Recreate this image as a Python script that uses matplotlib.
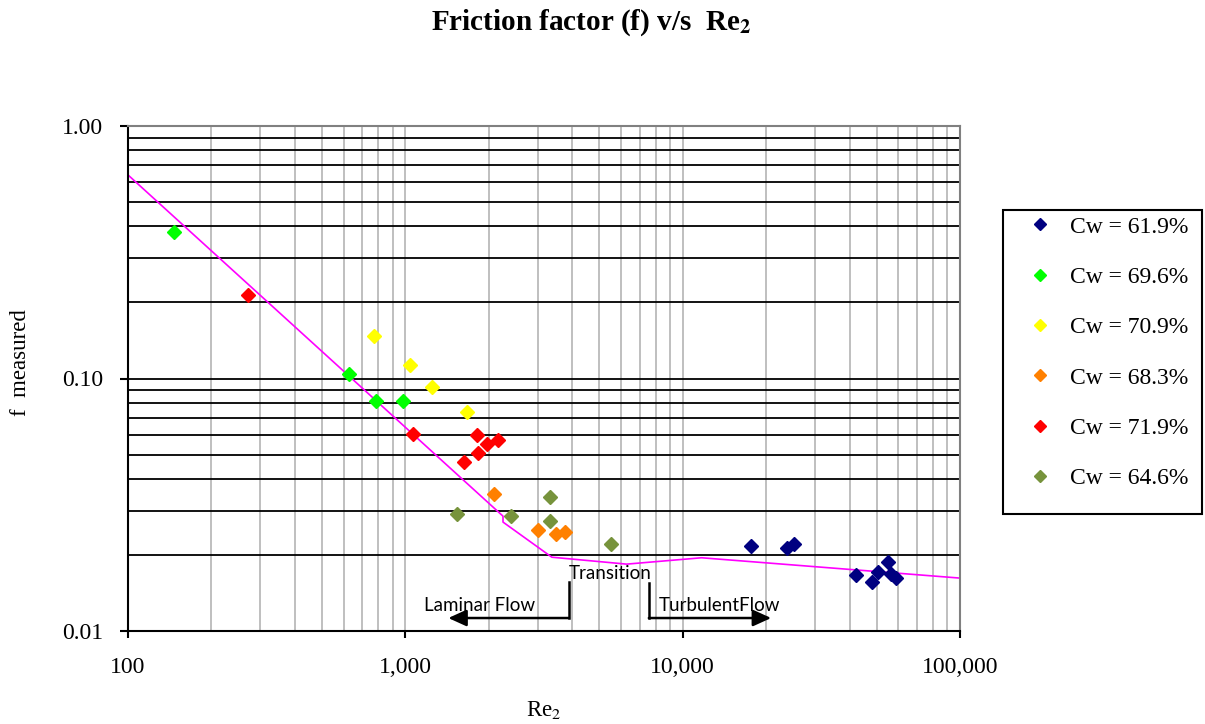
import matplotlib
matplotlib.use("Agg")
from matplotlib import pyplot as plt
from matplotlib.patches import Rectangle
from matplotlib.ticker import FixedLocator, FuncFormatter, NullFormatter

plt.rcParams['font.family'] = ['Liberation Serif', 'DejaVu Serif']
plt.rcParams['mathtext.fontset'] = 'stix'

# series: Re2 and f measured
labels = ['Cw = 61.9%', 'Cw = 69.6%', 'Cw = 70.9%', 'Cw = 68.3%', 'Cw = 71.9%', 'Cw = 64.6%']
colors = ['#000080', '#00ff00', '#ffff00', '#ff8000', '#ff0000', '#77933c']

re_619 = [17700, 23700, 25100, 42000, 48000, 50800, 54800, 56500, 59000]
f_619 = [0.0217, 0.0213, 0.0221, 0.0167, 0.0156, 0.0171, 0.0188, 0.0168, 0.0162]

re_696 = [146, 625, 783, 980]
f_696 = [0.380, 0.104, 0.0814, 0.0814]

re_709 = [769, 1038, 1245, 1667]
f_709 = [0.147, 0.113, 0.0925, 0.0737]

re_683 = [2084, 2999, 3486, 3757]
f_683 = [0.0349, 0.0251, 0.0242, 0.0247]

re_719 = [270, 1064, 1625, 1811, 1824, 1967, 2154]
f_719 = [0.214, 0.0603, 0.0467, 0.0598, 0.0507, 0.0550, 0.0571]

re_646 = [1534, 2398, 3318, 3318, 5506]
f_646 = [0.0291, 0.0285, 0.0339, 0.0273, 0.0221]

# reference curve
re_ref = [100, 2250, 2250, 3375, 6280, 11700, 100000]
f_ref = [0.64, 0.0285, 0.0270, 0.0196, 0.0184, 0.0195, 0.0162]

re_series = [re_619, re_696, re_709, re_683, re_719, re_646]
f_series = [f_619, f_696, f_709, f_683, f_719, f_646]

fig = plt.figure(figsize=(12.05, 7.24), dpi=100)
ax = fig.add_axes([128/1205, 93/724, 832/1205, 505/724])
ax.set_xscale('log')
ax.set_yscale('log')
ax.set_xlim(100, 100000)
ax.set_ylim(0.01, 1.0)

# grid: grey verticals, black horizontals
xminor = [m * 10**d for d in (2, 3, 4) for m in range(2, 10)]
yminor = [m * 10.0**d for d in (-2, -1) for m in range(2, 10)]
for x in xminor + [1000, 10000]:
    ax.axvline(x, color='#bfbfbf', lw=1.4, zorder=0)
for y in yminor + [0.1]:
    ax.axhline(y, color='black', lw=1.3, zorder=0)

ax.plot(re_ref, f_ref, color='#ff00ff', lw=1.2, zorder=2)
for xs, ys, c, lab in zip(re_series, f_series, colors, labels):
    ax.plot(xs, ys, linestyle='none', marker='D', ms=7.3, color=c, mec=c, label=lab, zorder=3)

ax.xaxis.set_major_locator(FixedLocator([100, 1000, 10000, 100000]))
ax.xaxis.set_minor_locator(FixedLocator([]))
ax.yaxis.set_major_locator(FixedLocator([0.01, 0.1, 1.0]))
ax.yaxis.set_minor_locator(FixedLocator([]))
ax.xaxis.set_major_formatter(FuncFormatter(lambda v, p: '{:,.0f}'.format(v)))
ax.yaxis.set_major_formatter(FuncFormatter(lambda v, p: '{:.2f}'.format(v)))
ax.xaxis.set_minor_formatter(NullFormatter())
ax.yaxis.set_minor_formatter(NullFormatter())
ax.tick_params(axis='x', which='major', direction='out', length=5, width=1.5, labelsize=17, pad=13.5)
ax.tick_params(axis='y', which='major', direction='out', length=6, width=1.5, labelsize=17, pad=12)

ax.spines['left'].set_linewidth(1.5)
ax.spines['bottom'].set_linewidth(1.5)
ax.spines['top'].set_color('#808080')
ax.spines['right'].set_color('#808080')
ax.spines['top'].set_linewidth(1.5)
ax.spines['right'].set_linewidth(1.5)

ax.set_xlabel('Re$_2$', fontsize=16.5)
ax.xaxis.set_label_coords(0.5, -0.135)
ax.set_ylabel('f  measured', fontsize=16.5)
ax.yaxis.set_label_coords(-0.117, 0.531)

fig.text(591/1205, 1 - 23/724, r'Friction factor (f) v/s  Re$_{\mathbf{2}}$',
         fontsize=21, fontweight='bold', ha='center', va='center')

# flow regime annotations
afont = ['Lato', 'DejaVu Sans']
ax.text(0.579, 0.113, 'Transition', transform=ax.transAxes, ha='center', va='center',
        fontsize=13.5, family=afont)
ax.text(0.423, 0.051, 'Laminar Flow', transform=ax.transAxes, ha='center', va='center',
        fontsize=13.5, family=afont)
ax.text(0.7115, 0.051, 'TurbulentFlow', transform=ax.transAxes, ha='center', va='center',
        fontsize=13.5, family=afont)
ax.plot([0.530, 0.530], [0.097, 0.0257], color='black', lw=1.8, transform=ax.transAxes, clip_on=False)
ax.plot([0.626, 0.626], [0.095, 0.0257], color='black', lw=1.8, transform=ax.transAxes, clip_on=False)
arrow = dict(arrowstyle='-|>,head_length=1.1,head_width=0.5', lw=1.8, color='black',
             mutation_scale=10, shrinkA=0, shrinkB=0)
ax.annotate('', xy=(0.385, 0.0257), xytext=(0.530, 0.0257), xycoords='axes fraction',
            textcoords='axes fraction', arrowprops=arrow)
ax.annotate('', xy=(0.773, 0.0257), xytext=(0.626, 0.0257), xycoords='axes fraction',
            textcoords='axes fraction', arrowprops=arrow)

# legend box drawn separately (Excel style, more room at the bottom)
fig.patches.append(Rectangle((1003/1205, 1 - 514/724), 199/1205, 304/724,
                             transform=fig.transFigure, fill=False, edgecolor='black', lw=1.5))
ax.legend(loc='upper left', bbox_to_anchor=(1028/1205, 1 - 216/724),
          bbox_transform=fig.transFigure, fontsize=17, frameon=False,
          markerscale=0.85, labelspacing=1.22, borderpad=0, handletextpad=0.78,
          handlelength=1.0, borderaxespad=0)

plt.savefig('out.png', dpi=100)
